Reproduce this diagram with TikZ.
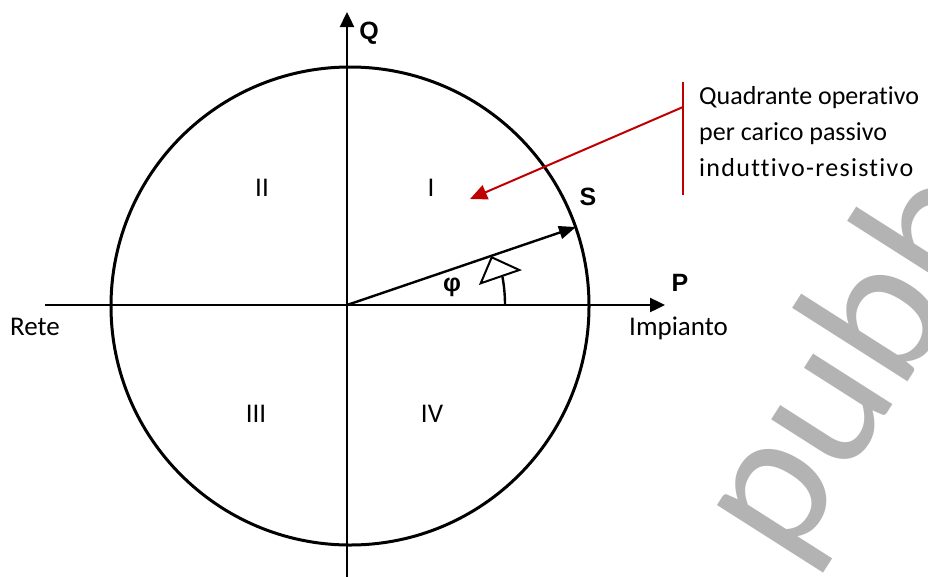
\documentclass[tikz,border=0pt]{standalone}
\usepackage{fontspec}
\setmainfont{Carlito}[Ligatures={NoCommon}]
\newfontfamily\boldsans{Liberation Sans}
\newfontfamily\spacedfont{Carlito}[Ligatures={NoCommon}, LetterSpace=5]
\usetikzlibrary{arrows.meta}
\definecolor{wmgray}{RGB}{179,179,179}
\definecolor{darkred}{RGB}{192,0,0}
\tikzset{
  axisline/.style={line width=2.4pt, -{Triangle[length=15pt,width=14pt]}},
  circleline/.style={line width=3pt},
  plainline/.style={line width=2.4pt},
  redline/.style={line width=2pt, draw=darkred},
  lbl/.style={font=\fontsize{27}{27}\selectfont, inner sep=0pt},
  blbl/.style={font=\boldsans\bfseries\fontsize{25}{25}\selectfont, inner sep=0pt},
  note/.style={font=\fontsize{26}{36}\selectfont, align=left, inner sep=0pt, anchor=north west},
}
\begin{document}
\begin{tikzpicture}[x=1pt,y=-1pt]
\useasboundingbox (0,0) rectangle (928,576);
\fill[white] (0,0) rectangle (928,576);
\begin{scope}
\clip (0,0) rectangle (928,576);
\node[rotate=57.5, anchor=base west, text=wmgray, inner sep=0pt,
  font=\fontsize{197}{197}\selectfont] (wm) at (789,568) {pubb};
\end{scope}
% coordinates
\coordinate (O) at (347,305);
\coordinate (C) at (350,306);
\coordinate (xL) at (45,305);
\coordinate (xR) at (665,305);
\coordinate (yB) at (347,578);
\coordinate (yT) at (347,12);
\coordinate (Stip) at (576,227);
% circle
\draw[circleline] (C) circle[radius=239pt];
% axes
\draw[axisline] (xL) -- (xR);
\draw[axisline] (yB) -- (yT);
% S vector
\draw[line width=2.4pt, -{Triangle[length=17pt,width=13pt]}] (O) -- (Stip);
% angle arc
\coordinate (A0) at (505,305);
\draw[plainline] (A0) arc[start angle=0, end angle=-10.3, radius=158];
\coordinate (T1) at (491.7,257.3);
\coordinate (T2) at (519.3,270);
\coordinate (T3) at (480.7,283.3);
\draw[line width=2pt, fill=white, line join=miter] (T1) -- (T2) -- (T3) -- cycle;
% labels
\node[blbl] (Q) at (369,33) {Q};
\node[blbl] (P) at (680,283) {P};
\node[blbl] (S) at (588,197) {S};
\node[blbl] (phi) at (452,287) {φ};
\node[lbl] (q2) at (262,188) {II};
\node[lbl] (q1) at (431,188) {I};
\node[lbl] (q3) at (256,414) {III};
\node[lbl] (q4) at (432,414) {IV};
\node[lbl, anchor=base west] (rete) at (10,335) {Rete};
\node[lbl, anchor=base west] (imp) at (629,335) {Impianto};
% note
\coordinate (bT) at (683,82);
\coordinate (bB) at (683,195);
\coordinate (bJ) at (683,107);
\coordinate (rtip) at (470,199);
\draw[redline] (bT) -- (bB);
\draw[redline, -{Triangle[length=17pt,width=15pt]}, fill=darkred] (bJ) -- (rtip);
\node[note] (txt) at (699,86) {Quadrante operativo\\per carico passivo\\{\spacedfont induttivo-resistivo}};
\end{tikzpicture}
\end{document}
